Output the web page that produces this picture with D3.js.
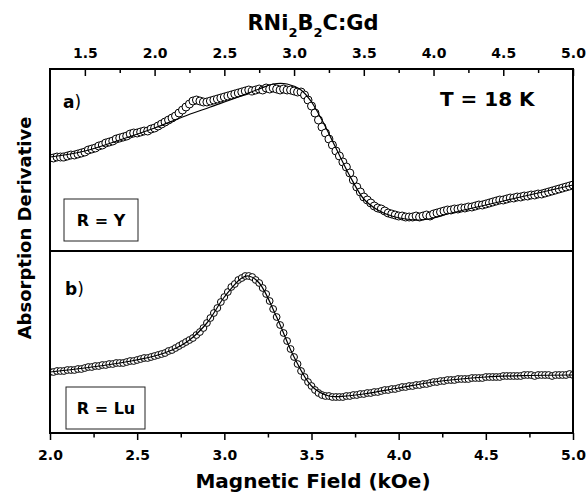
<!DOCTYPE html>
<html><head><meta charset="utf-8">
<script src="https://cdn.jsdelivr.net/npm/d3@7"></script>
<style>
body{margin:0;background:#fff}
text{font-family:"DejaVu Sans",sans-serif;font-weight:bold;fill:#000}
</style>
</head><body>
<svg id="chart" width="587" height="500"></svg>
<script>
// ---------- data ----------
const titleParts = ["RNi", "2", "B", "2", "C:Gd"];
const xTitle = "Magnetic Field (kOe)";
const yTitle = "Absorption Derivative";
const tempLabel = "T = 18 K";
const sampleA = "R = Y";
const sampleB = "R = Lu";

const topTicks = [1.5, 2.0, 2.5, 3.0, 3.5, 4.0, 4.5, 5.0];
const topMinor = [1.75, 2.25, 2.75, 3.25, 3.75, 4.25, 4.75];
const bottomTicks = [2.0, 2.5, 3.0, 3.5, 4.0, 4.5, 5.0];
const bottomMinor = [2.25, 2.75, 3.25, 3.75, 4.25, 4.75];

// panel a (R = Y), field on top axis (kOe), signal in arb. units
const fieldA = [1.25,1.275,1.3,1.325,1.35,1.375,1.4,1.425,1.45,1.475,
1.5,1.525,1.55,1.575,1.6,1.625,1.65,1.675,1.7,1.725,
1.75,1.775,1.8,1.825,1.85,1.875,1.9,1.925,1.95,1.975,
2.0,2.025,2.05,2.075,2.1,2.125,2.15,2.175,2.2,2.225,
2.25,2.275,2.3,2.325,2.35,2.375,2.4,2.425,2.45,2.475,
2.5,2.525,2.55,2.575,2.6,2.625,2.65,2.675,2.7,2.725,
2.75,2.775,2.8,2.825,2.85,2.875,2.9,2.925,2.95,2.975,
3.0,3.025,3.05,3.075,3.1,3.125,3.15,3.175,3.2,3.225,
3.25,3.275,3.3,3.325,3.35,3.375,3.4,3.425,3.45,3.475,
3.5,3.525,3.55,3.575,3.6,3.625,3.65,3.675,3.7,3.725,
3.75,3.775,3.8,3.825,3.85,3.875,3.9,3.925,3.95,3.975,
4.0,4.025,4.05,4.075,4.1,4.125,4.15,4.175,4.2,4.225,
4.25,4.275,4.3,4.325,4.35,4.375,4.4,4.425,4.45,4.475,
4.5,4.525,4.55,4.575,4.6,4.625,4.65,4.675,4.7,4.725,
4.75,4.775,4.8,4.825,4.85,4.875,4.9,4.925,4.95,4.975,5.0];
const signalA = [0.2,0.2,0.3,0.3,0.3,0.4,0.5,0.5,0.6,0.7,
0.8,1.0,1.1,1.2,1.4,1.5,1.7,1.8,1.9,2.1,
2.2,2.3,2.4,2.6,2.7,2.7,2.8,2.9,2.9,3.1,
3.2,3.4,3.6,3.8,4.0,4.2,4.4,4.7,5.0,5.3,
5.6,5.9,6.0,5.9,5.8,5.8,5.9,6.0,6.1,6.2,
6.3,6.4,6.5,6.6,6.7,6.8,6.9,7.0,6.9,7.0,
7.1,7.0,7.2,7.1,7.2,7.1,7.0,7.1,7.0,7.0,
6.9,6.8,6.8,6.5,6.0,5.4,4.7,4.0,3.3,2.7,
2.1,1.5,0.9,0.4,-0.2,-0.7,-1.3,-2.0,-2.7,-3.2,
-3.7,-4.0,-4.3,-4.6,-4.8,-4.9,-5.1,-5.3,-5.4,-5.5,
-5.6,-5.6,-5.7,-5.7,-5.7,-5.6,-5.7,-5.6,-5.5,-5.6,
-5.4,-5.3,-5.2,-5.1,-5.0,-5.0,-4.9,-4.9,-4.8,-4.8,
-4.7,-4.7,-4.6,-4.5,-4.5,-4.4,-4.3,-4.2,-4.1,-4.0,
-4.0,-3.9,-3.8,-3.8,-3.7,-3.7,-3.6,-3.6,-3.5,-3.5,
-3.4,-3.4,-3.3,-3.2,-3.1,-3.0,-2.9,-2.8,-2.7,-2.6,-2.5];
const fitFieldA = [1.25,1.5,1.75,2.0,2.2,2.4,2.6,2.75,2.85,2.95,3.05,3.12,3.2,3.3,3.4,3.5,3.6,3.7,3.8,3.9,4.0,4.1,4.25,4.5,4.75,5.0];
const fitA = [0.3,0.9,2.0,3.2,4.3,5.3,6.3,7.1,7.6,7.6,7.0,5.9,4.0,1.2,-1.6,-3.9,-5.0,-5.6,-5.9,-6.0,-5.8,-5.4,-4.9,-4.1,-3.3,-2.5];

// panel b (R = Lu), field on bottom axis (kOe)
const fieldB = [2.0,2.02,2.04,2.06,2.08,2.1,2.12,2.14,2.16,2.18,
2.2,2.22,2.24,2.26,2.28,2.3,2.32,2.34,2.36,2.38,
2.4,2.42,2.44,2.46,2.48,2.5,2.52,2.54,2.56,2.58,
2.6,2.62,2.64,2.66,2.68,2.7,2.72,2.74,2.76,2.78,
2.8,2.82,2.84,2.86,2.88,2.9,2.92,2.94,2.96,2.98,
3.0,3.02,3.04,3.06,3.08,3.1,3.12,3.14,3.16,3.18,
3.2,3.22,3.24,3.26,3.28,3.3,3.32,3.34,3.36,3.38,
3.4,3.42,3.44,3.46,3.48,3.5,3.52,3.54,3.56,3.58,
3.6,3.62,3.64,3.66,3.68,3.7,3.72,3.74,3.76,3.78,
3.8,3.82,3.84,3.86,3.88,3.9,3.92,3.94,3.96,3.98,
4.0,4.02,4.04,4.06,4.08,4.1,4.12,4.14,4.16,4.18,
4.2,4.22,4.24,4.26,4.28,4.3,4.32,4.34,4.36,4.38,
4.4,4.42,4.44,4.46,4.48,4.5,4.52,4.54,4.56,4.58,
4.6,4.62,4.64,4.66,4.68,4.7,4.72,4.74,4.76,4.78,
4.8,4.82,4.84,4.86,4.88,4.9,4.92,4.94,4.96,4.98,5.0];
const signalB = [-3.0,-3.0,-2.9,-2.9,-2.9,-2.8,-2.8,-2.8,-2.7,-2.7,
-2.6,-2.5,-2.5,-2.4,-2.4,-2.3,-2.3,-2.2,-2.2,-2.1,
-2.1,-2.1,-2.0,-1.9,-1.9,-1.8,-1.7,-1.6,-1.6,-1.5,
-1.4,-1.3,-1.2,-1.1,-0.9,-0.8,-0.6,-0.4,-0.2,0.0,
0.2,0.4,0.7,1.0,1.4,1.9,2.4,2.9,3.4,4.0,
4.5,5.0,5.5,5.8,6.2,6.4,6.6,6.6,6.5,6.2,
5.9,5.4,4.8,4.1,3.3,2.5,1.7,0.9,0.1,-0.7,
-1.5,-2.2,-2.9,-3.5,-4.0,-4.4,-4.8,-5.1,-5.3,-5.4,
-5.4,-5.5,-5.5,-5.5,-5.5,-5.4,-5.4,-5.3,-5.3,-5.2,
-5.2,-5.1,-5.1,-5.0,-5.0,-4.9,-4.8,-4.8,-4.7,-4.7,
-4.6,-4.5,-4.5,-4.4,-4.4,-4.3,-4.3,-4.2,-4.2,-4.1,
-4.0,-4.0,-3.9,-3.9,-3.8,-3.8,-3.8,-3.7,-3.7,-3.7,
-3.7,-3.6,-3.6,-3.6,-3.6,-3.5,-3.5,-3.5,-3.5,-3.5,
-3.4,-3.4,-3.4,-3.4,-3.4,-3.4,-3.3,-3.3,-3.3,-3.4,
-3.3,-3.3,-3.3,-3.3,-3.4,-3.3,-3.3,-3.3,-3.3,-3.2,-3.3];
const fitFieldB = [2.0,2.2,2.4,2.6,2.7,2.8,2.9,3.0,3.1,3.14,3.2,3.3,3.4,3.5,3.6,3.7,3.8,4.0,4.2,4.5,4.75,5.0];
const fitB = [-3.0,-2.6,-2.1,-1.4,-0.8,0.2,1.9,4.5,6.4,6.6,5.9,2.5,-1.5,-4.4,-5.4,-5.4,-5.2,-4.6,-4.0,-3.5,-3.35,-3.3];

// ---------- layout ----------
const svg = d3.select("#chart");
const L = 50, R = 573, T = 69, M = 251, B = 433;

const xTop = d3.scaleLinear().domain([1.25, 5.0]).range([L, R]);
const xBot = d3.scaleLinear().domain([2.0, 5.0]).range([L, R]);
const yA = d3.scaleLinear().domain([-9.1, 9.1]).range([M, T]);
const yB = d3.scaleLinear().domain([-9.1, 9.1]).range([B, M]);

const defs = svg.append("defs");
defs.append("clipPath").attr("id", "clipA").append("rect")
  .attr("x", L).attr("y", T).attr("width", R - L).attr("height", M - T);
defs.append("clipPath").attr("id", "clipB").append("rect")
  .attr("x", L).attr("y", M).attr("width", R - L).attr("height", B - M);

function panel(clip, fx, fy, xs, ys, fxs, fys, x, y, r) {
  const g = svg.append("g").attr("clip-path", `url(#${clip})`);
  const pts = xs.map((d, i) => [d, ys[i]]);
  g.selectAll("circle").data(pts).join("circle")
    .attr("cx", d => x(d[0])).attr("cy", d => y(d[1])).attr("r", r)
    .attr("fill", "#fff").attr("stroke", "#000").attr("stroke-width", 1);
  const line = d3.line().x(d => x(d[0])).y(d => y(d[1])).curve(d3.curveCatmullRom);
  g.append("path").datum(fxs.map((d, i) => [d, fys[i]]))
    .attr("d", line).attr("fill", "none").attr("stroke", "#000").attr("stroke-width", 1.2);
}
panel("clipA", null, null, fieldA, signalA, fitFieldA, fitA, xTop, yA, 4);
panel("clipB", null, null, fieldB, signalB, fitFieldB, fitB, xBot, yB, 3.4);

// axes
const fmt = d3.format(".1f");
const topAx = svg.append("g").attr("transform", `translate(0,${T})`)
  .call(d3.axisTop(xTop).tickValues(topTicks).tickSize(-7).tickPadding(11).tickFormat(fmt));
svg.append("g").attr("transform", `translate(0,${T})`)
  .call(d3.axisTop(xTop).tickValues(topMinor).tickSize(-4).tickFormat(""));
const botAx = svg.append("g").attr("transform", `translate(0,${B})`)
  .call(d3.axisBottom(xBot).tickValues(bottomTicks).tickSize(7).tickPadding(10).tickFormat(fmt));
svg.append("g").attr("transform", `translate(0,${B})`)
  .call(d3.axisBottom(xBot).tickValues(bottomMinor).tickSize(4.5).tickFormat(""));
svg.selectAll(".domain").remove();
svg.selectAll(".tick line").attr("stroke", "#000").attr("stroke-width", 1.5);
svg.selectAll(".tick text").style("font-family", "'DejaVu Sans',sans-serif")
  .style("font-weight", "bold").style("font-size", "14px").attr("fill", "#000");

// frame
svg.append("rect").attr("x", L).attr("y", T).attr("width", R - L).attr("height", B - T)
  .attr("fill", "none").attr("stroke", "#000").attr("stroke-width", 2);
svg.append("line").attr("x1", L).attr("x2", R).attr("y1", M).attr("y2", M)
  .attr("stroke", "#000").attr("stroke-width", 2);

// title
const tt = svg.append("text").attr("x", 313).attr("y", 30).attr("text-anchor", "middle")
  .style("font-size", "21px");
titleParts.forEach((p, i) => {
  const sub = i % 2 === 1;
  tt.append("tspan").text(p)
    .attr("dy", sub ? 7 : (i > 0 ? -7 : 0))
    .style("font-size", sub ? "13px" : "21px");
});

// axis titles
svg.append("text").attr("x", 313).attr("y", 488).attr("text-anchor", "middle")
  .style("font-size", "20px").text(xTitle);
svg.append("text").attr("transform", "translate(31,228) rotate(-90)")
  .attr("text-anchor", "middle").style("font-size", "18px").text(yTitle);

// panel labels
function plabel(x, y, letter) {
  const t = svg.append("text").attr("x", x).attr("y", y).style("font-size", "17px");
  t.append("tspan").text(letter);
  t.append("tspan").text(")").style("font-weight", "normal");
}
plabel(63, 108, "a");
plabel(65, 295, "b");

svg.append("text").attr("x", 440).attr("y", 106).style("font-size", "20px").text(tempLabel);

function sbox(x, y, w, h, cx, by, label) {
  svg.append("rect").attr("x", x).attr("y", y).attr("width", w).attr("height", h)
    .attr("fill", "#fff").attr("stroke", "#222").attr("stroke-width", 1);
  svg.append("text").attr("x", cx).attr("y", by).attr("text-anchor", "middle")
    .style("font-size", "16px").text(label);
}
sbox(64, 199, 74, 42, 101, 226, sampleA);
sbox(66, 387, 79, 42, 106, 414, sampleB);
</script>
</body></html>
